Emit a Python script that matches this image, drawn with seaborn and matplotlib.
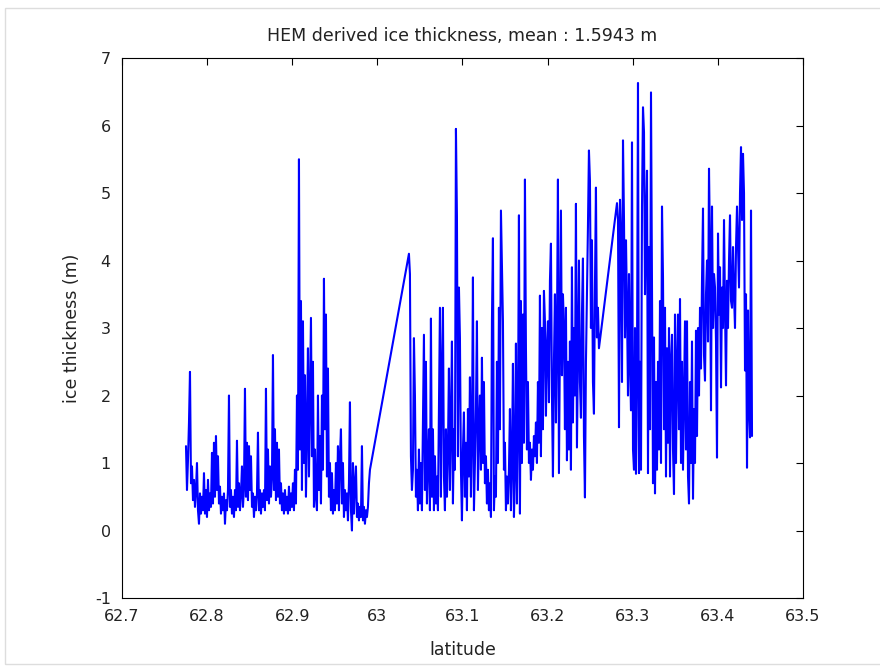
import numpy as np
import pandas as pd
import seaborn as sns
import matplotlib.pyplot as plt
from matplotlib.patches import Rectangle
from matplotlib.ticker import FuncFormatter

# three flight-track segments: latitude range and HEM ice thickness samples (m)
seg1_lat = (62.7752, 62.9913)
seg1_thk = [
    1.25, 0.6, 1.05, 1.6, 2.35, 0.7, 0.95, 0.45, 0.75, 0.35, 0.6, 1.0, 0.3, 0.1, 0.55, 0.25,
    0.5, 0.3, 0.85, 0.25, 0.6, 0.2, 0.75, 0.3, 0.55, 0.35, 1.15, 0.4, 1.3, 0.5, 1.4, 0.6,
    1.1, 0.4, 0.65, 0.25, 0.5, 0.3, 0.55, 0.1, 0.45, 0.3, 0.6, 2.0, 0.35, 0.6, 0.25, 0.5,
    0.2, 0.6, 0.3, 1.33, 0.35, 0.7, 0.3, 0.55, 0.95, 0.35, 0.65, 2.1, 0.5, 1.3, 0.45, 1.25,
    0.6, 1.1, 0.35, 0.55, 0.2, 0.5, 0.3, 0.55, 1.45, 0.3, 0.6, 0.25, 0.55, 0.35, 0.6, 0.3,
    2.1, 0.45, 1.2, 0.4, 0.95, 0.5, 0.8, 2.6, 0.6, 1.5, 0.45, 1.3, 0.5, 1.2, 0.4, 0.7,
    0.3, 0.55, 0.25, 0.6, 0.3, 0.5, 0.25, 0.65, 0.3, 0.55, 0.35, 0.7, 0.3, 0.9, 0.4, 2.0,
    0.9, 5.5, 1.2, 3.4, 0.6, 3.1, 1.0, 2.3, 0.5, 1.5, 2.7, 0.8, 2.0, 3.15, 1.1, 2.5,
    0.35, 1.2, 0.5, 0.3, 2.0, 0.6, 1.4, 0.4, 2.0, 0.9, 3.73, 1.5, 3.2, 0.8, 2.4, 0.5,
    1.0, 0.3, 0.85, 0.25, 0.6, 0.3, 1.0, 0.4, 1.25, 0.3, 1.1, 1.5, 0.4, 1.0, 0.2, 0.6,
    0.3, 0.55, 0.15, 0.7, 1.9, 0.3, 0.0, 1.0, 0.25, 0.7, 0.95, 0.2, 0.4, 0.15, 0.35, 0.2,
    1.25, 0.15, 0.35, 0.1, 0.3, 0.2, 0.35, 0.7, 0.9,
]

seg2_lat = (63.0371, 63.2603)
seg2_thk = [
    4.1, 3.8, 1.1, 0.6, 0.9, 2.85, 2.0, 0.5, 0.9, 0.3, 1.2, 0.4, 1.0, 0.3, 1.6, 2.9,
    0.6, 2.5, 0.4, 1.0, 1.5, 0.3, 3.14, 0.5, 1.5, 0.3, 1.1, 0.4, 0.8, 0.3, 1.8, 3.3,
    0.5, 2.3, 3.3, 0.8, 0.3, 1.5, 0.5, 1.2, 2.4, 0.6, 1.6, 2.8, 0.4, 1.5, 0.9, 5.95,
    4.65, 1.1, 3.6, 2.85, 0.9, 0.15, 1.2, 1.75, 0.5, 1.3, 0.3, 1.8, 0.8, 2.27, 0.5, 1.4,
    3.75, 0.3, 1.0, 1.8, 3.1, 0.6, 1.5, 2.0, 0.9, 2.56, 1.0, 2.2, 0.7, 1.1, 0.4, 0.9,
    0.3, 0.7, 0.2, 3.1, 4.33, 0.3, 0.8, 0.5, 2.5, 1.0, 3.3, 1.5, 4.74, 3.9, 3.1, 0.9,
    1.3, 0.3, 0.8, 0.4, 0.9, 1.8, 0.3, 1.0, 2.47, 0.2, 0.9, 2.77, 0.4, 1.5, 4.67, 0.25,
    3.4, 1.0, 3.2, 1.3, 5.2, 2.7, 1.2, 2.2, 1.0, 1.3, 0.75, 1.2, 0.9, 1.4, 1.1, 1.6,
    1.0, 2.2, 1.3, 3.48, 1.1, 3.0, 1.5, 3.55, 3.1, 1.7, 2.7, 3.1, 1.9, 3.7, 4.25, 2.0,
    0.8, 2.5, 3.5, 1.6, 2.9, 5.2, 0.85, 2.7, 4.74, 2.3, 3.5, 3.0, 1.5, 3.3, 1.04, 2.5,
    1.2, 2.8, 0.9, 3.9, 1.6, 3.0, 2.0, 4.84, 1.23, 2.6, 4.0, 2.2, 1.67, 3.2, 4.03, 1.4,
    0.49, 2.5, 3.45, 4.5, 5.63, 5.18, 3.0, 4.3, 2.2, 1.73, 3.6, 5.08, 2.86, 3.3, 2.7,
]

seg3_lat = (63.2815, 63.4401)
seg3_thk = [
    4.85, 4.6, 1.53, 4.9, 4.3, 2.2, 5.78, 4.6, 2.86, 4.3, 3.3, 2.0, 3.8, 2.5, 1.78, 5.75,
    1.2, 0.9, 3.0, 0.84, 2.4, 6.63, 0.85, 2.5, 0.9, 4.8, 6.27, 5.9, 3.5, 4.6, 5.33, 0.85,
    4.2, 1.5, 6.49, 3.5, 0.7, 2.86, 0.55, 2.2, 0.9, 2.5, 1.2, 3.4, 1.0, 4.8, 3.75, 1.5,
    3.3, 0.8, 2.7, 1.3, 3.0, 0.8, 2.5, 2.9, 1.2, 0.54, 3.2, 1.0, 2.4, 3.2, 1.5, 3.43,
    1.0, 2.5, 0.9, 2.0, 3.1, 1.2, 3.1, 0.8, 0.4, 2.2, 1.0, 2.8, 0.47, 1.8, 1.0, 2.96,
    1.4, 3.0, 2.0, 3.3, 2.4, 3.7, 4.77, 2.6, 2.22, 3.5, 4.0, 2.8, 5.36, 4.2, 1.78, 4.8,
    3.0, 3.8, 3.6, 2.8, 1.08, 4.4, 3.2, 3.9, 2.12, 3.6, 3.0, 4.6, 3.3, 2.15, 3.7, 3.0,
    4.0, 4.67, 3.4, 3.3, 4.2, 3.5, 3.0, 4.2, 4.8, 4.2, 3.6, 5.0, 5.68, 4.6, 5.58, 5.0,
    2.37, 3.5, 0.93, 3.26, 1.8, 1.38, 4.74, 1.4,
]

mean_thickness = 1.5943

x_ticks = [62.7, 62.8, 62.9, 63.0, 63.1, 63.2, 63.3, 63.4, 63.5]
y_ticks = [-1, 0, 1, 2, 3, 4, 5, 6, 7]

frames = []
for (lat0, lat1), thk in [(seg1_lat, seg1_thk), (seg2_lat, seg2_thk), (seg3_lat, seg3_thk)]:
    frames.append(pd.DataFrame({"latitude": np.linspace(lat0, lat1, len(thk)), "thickness": thk}))
df = pd.concat(frames, ignore_index=True)

sns.set_style("white")
plt.rcParams["font.family"] = ["DejaVu Sans"]
plt.rcParams["axes.unicode_minus"] = False
plt.rcParams["xtick.direction"] = "in"
plt.rcParams["ytick.direction"] = "in"

fig = plt.figure(figsize=(8.8, 6.69), dpi=100)
ax = fig.add_axes([0.1386, 0.1061, 0.9125 - 0.1386, 0.9133 - 0.1061])

sns.lineplot(data=df, x="latitude", y="thickness", sort=False, estimator=None,
             color="#0000ff", linewidth=1.5, ax=ax)

ax.set_xlim(62.7, 63.5)
ax.set_ylim(-1, 7)
ax.set_xticks(x_ticks)
ax.set_yticks(y_ticks)
ax.xaxis.set_major_formatter(FuncFormatter(lambda v, p: f"{round(v, 1):g}"))
ax.tick_params(axis="both", which="both", top=True, right=True, length=5, width=0.8,
               labelsize=11.5, color="black", labelcolor="#222222", pad=8)
for sp in ax.spines.values():
    sp.set_visible(True)
    sp.set_color("black")
    sp.set_linewidth(0.8)

ax.set_title(f"HEM derived ice thickness, mean : {mean_thickness:.4f} m", fontsize=12.5,
             color="#222222", pad=12)
ax.set_xlabel("latitude", fontsize=12.5, color="#222222", labelpad=12)
ax.set_ylabel("ice thickness (m)", fontsize=12.5, color="#222222", labelpad=10)

# faint frame around the screenshot
fig.patches.append(Rectangle((5 / 880, 5 / 669), 1.2, 656 / 669, transform=fig.transFigure,
                             fill=False, edgecolor="#dddddd", linewidth=1))

fig.savefig("out.png", dpi=100)
